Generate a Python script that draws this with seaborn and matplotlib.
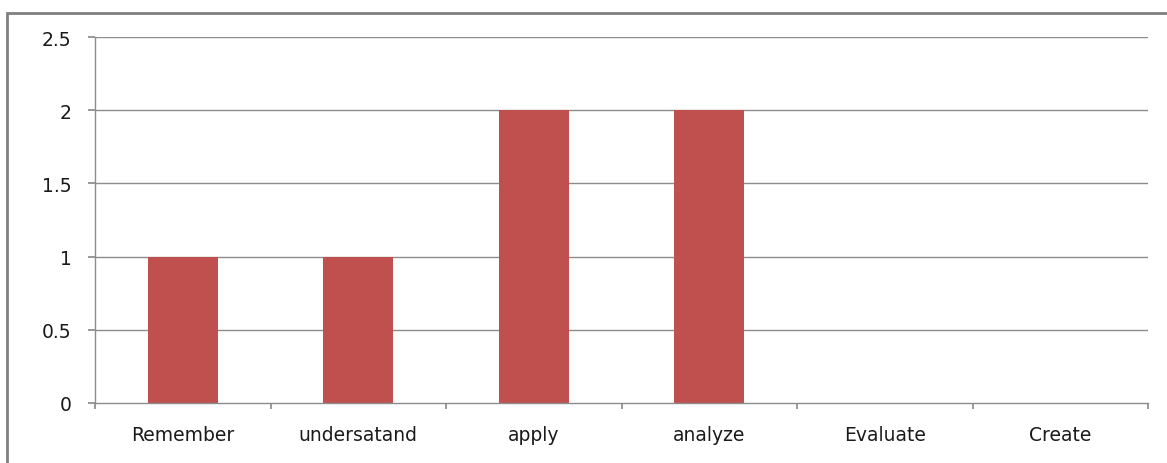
import matplotlib
matplotlib.use("Agg")
import matplotlib.pyplot as plt
import seaborn as sns
import pandas as pd
from matplotlib.patches import Rectangle

# Chart data
categories = ["Remember", "undersatand", "apply", "analyze", "Evaluate", "Create"]
values = [1, 1, 2, 2, 0, 0]
y_ticks = [0, 0.5, 1, 1.5, 2, 2.5]
y_tick_labels = ["0", "0.5", "1", "1.5", "2", "2.5"]

sns.set_theme(style="white")
plt.rcParams["font.family"] = ["DejaVu Sans"]

df = pd.DataFrame({"level": categories, "count": values})

fig = plt.figure(figsize=(11.67, 4.64), dpi=100)
ax = fig.add_axes([95 / 1167, 1 - 404 / 464, (1148 - 95) / 1167, (404 - 38) / 464])

sns.barplot(data=df, x="level", y="count", color="#C0504D", saturation=1,
            width=0.4, linewidth=0, ax=ax)

grid_color = "#8C8C8C"
text_color = "#1a1a1a"
ax.set_ylim(0, 2.5)
ax.set_xlim(-0.5, len(categories) - 0.5)
ax.set_yticks(y_ticks)
ax.set_yticklabels(y_tick_labels, fontsize=13.5, color=text_color)
for y in y_ticks[1:]:
    ax.axhline(y, color=grid_color, lw=1, zorder=0)

# category boundaries get tick marks, labels sit at the centres
ax.set_xticks([i - 0.5 for i in range(len(categories) + 1)])
ax.set_xticklabels([])
ax.set_xticks(range(len(categories)), minor=True)
ax.set_xticklabels(categories, minor=True, fontsize=13.5, color=text_color)
ax.tick_params(axis="x", which="major", length=4, color=grid_color, direction="out", bottom=True)
ax.tick_params(axis="x", which="minor", length=0, pad=16)
ax.tick_params(axis="y", length=5, color=grid_color, direction="out", left=True, pad=12)

ax.set_xlabel("")
ax.set_ylabel("")
for side in ["top", "right"]:
    ax.spines[side].set_visible(False)
for side in ["left", "bottom"]:
    ax.spines[side].set_color(grid_color)
    ax.spines[side].set_linewidth(1)

# outer chart border
fig.patches.append(Rectangle((7 / 1167, -0.1), 1.2, 1 - 14 / 464 + 0.1,
                             transform=fig.transFigure, fill=False,
                             edgecolor="#7F7F7F", lw=2))

fig.savefig("out.png", dpi=100)
